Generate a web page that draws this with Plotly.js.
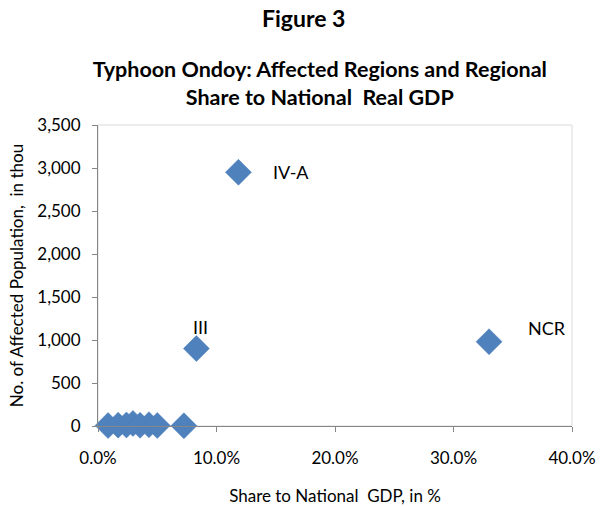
<!DOCTYPE html>
<html>
<head>
<meta charset="utf-8">
<script src="https://cdn.plot.ly/plotly-3.0.1.min.js"></script>
<style>html,body{margin:0;padding:0;background:#fff;}#chart{width:600px;height:506px;}</style>
</head>
<body>
<div id="chart"></div>
<script>
// Data: share to national real GDP (%) vs affected population (thousands)
const regions = ["R1", "R2", "R3", "R4", "R5", "R6", "R7", "R8", "III", "IV-A", "NCR"];
const gdpShare = [0.85, 1.7, 2.4, 2.95, 3.55, 4.3, 5.0, 7.25, 8.3, 11.85, 33.0];
const affected = [5, 10, 12, 30, 8, 15, 6, 3, 900, 2950, 980];
const pointLabels = ["", "", "", "", "", "", "", "", "III", "IV-A", "NCR"];
const xTickVals = [0, 10, 20, 30, 40];
const yTickVals = [0, 500, 1000, 1500, 2000, 2500, 3000, 3500];

const labelShift = {"III": [4, 22], "IV-A": [53, 0], "NCR": [58, 14]};
const font = "Lato, 'Open Sans', 'Liberation Sans', sans-serif";

const annotations = [];
pointLabels.forEach((t, i) => {
  if (!t) return;
  const s = labelShift[t];
  annotations.push({x: gdpShare[i], y: affected[i], xref: 'x', yref: 'y', text: t,
    showarrow: false, xshift: s[0], yshift: s[1], font: {family: font, size: 18, color: '#000'}});
});
annotations.push({text: '<b>Figure 3</b>', xref: 'paper', yref: 'paper', x: 0.434, y: 1.355,
  xanchor: 'center', yanchor: 'middle', showarrow: false, font: {family: font, size: 23, color: '#000'}});

const trace = {
  type: 'scatter', mode: 'markers', x: gdpShare, y: affected, text: regions,
  cliponaxis: false,
  marker: {symbol: 'diamond', size: 20, color: '#4F81BD', line: {color: '#4A7EBB', width: 0.5}},
  hoverinfo: 'x+y+text'
};

const layout = {
  width: 600, height: 506,
  margin: {l: 98, r: 28, t: 125, b: 80},
  paper_bgcolor: '#fff', plot_bgcolor: '#fff',
  showlegend: false,
  title: {text: '<b>Typhoon Ondoy: Affected Regions and Regional<br>Share to National  Real GDP</b>',
    xref: 'container', yref: 'container', x: 0.533, y: 0.848, xanchor: 'center', yanchor: 'middle',
    font: {family: font, size: 21.5, color: '#000'}},
  xaxis: {range: [0, 40], tickvals: xTickVals, ticktext: xTickVals.map(v => v.toFixed(1) + '%'),
    showgrid: false, zeroline: false, showline: true, linecolor: '#868686', linewidth: 1,
    ticks: 'outside', ticklen: 5, tickcolor: '#868686', ticklabelstandoff: 12,
    tickfont: {family: font, size: 17, color: '#000'},
    title: {text: 'Share to National  GDP, in %', standoff: 22, font: {family: font, size: 17, color: '#000'}}},
  yaxis: {range: [0, 3500], tickvals: yTickVals, tickformat: ',d',
    showgrid: false, zeroline: false, showline: true, linecolor: '#868686', linewidth: 1,
    ticks: 'outside', ticklen: 5, tickcolor: '#868686', ticklabelstandoff: 8,
    tickfont: {family: font, size: 17, color: '#000'},
    title: {text: 'No. of Affected Population,  in thou', standoff: 9, font: {family: font, size: 17, color: '#000'}}},
  shapes: [{type: 'rect', xref: 'paper', yref: 'paper', x0: 0, x1: 1, y0: 0, y1: 1,
    line: {color: '#D9D9D9', width: 1}, layer: 'below'}],
  annotations: annotations
};

Plotly.newPlot('chart', [trace], layout, {displayModeBar: false, staticPlot: true});
</script>
</body>
</html>
